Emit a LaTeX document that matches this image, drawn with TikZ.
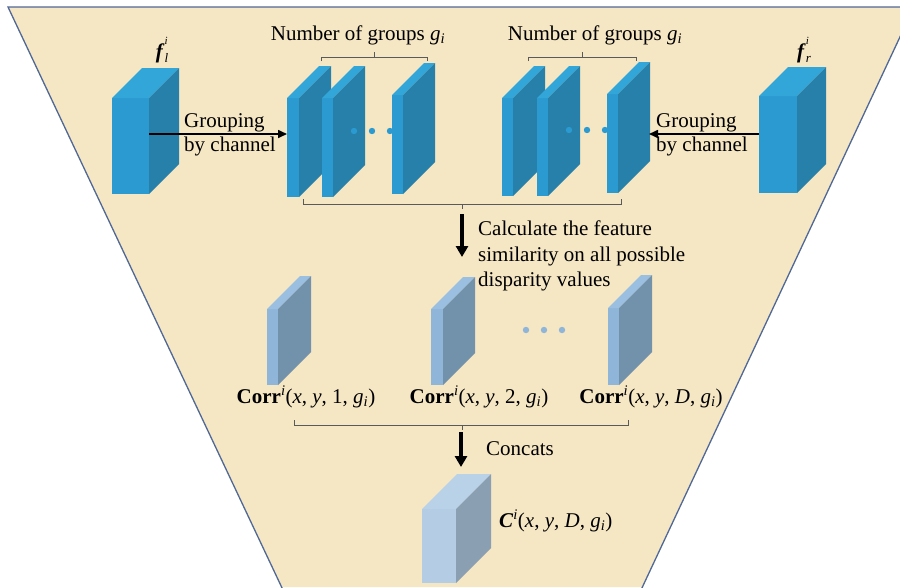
\documentclass[tikz,border=0pt]{standalone}
\usepackage{fontspec}
\setmainfont{Liberation Serif}
\usetikzlibrary{arrows.meta,calc}
\definecolor{bg}{RGB}{245,230,196}
\definecolor{edge}{RGB}{80,104,150}
\definecolor{bF}{RGB}{42,154,208}
\definecolor{bT}{RGB}{50,166,216}
\definecolor{bS}{RGB}{38,128,170}
\definecolor{lF}{RGB}{143,181,217}
\definecolor{lT}{RGB}{155,191,224}
\definecolor{lS}{RGB}{114,145,170}
\definecolor{cF}{RGB}{180,205,228}
\definecolor{cT}{RGB}{186,210,232}
\definecolor{cS}{RGB}{138,160,178}
\definecolor{brk}{RGB}{90,90,90}
\newcommand\cub[8]{%
  \fill[#6] (#1,#2) rectangle (#3,#4);
  \fill[#7] (#1,#2) -- (#1+#5,#2-#5) -- (#3+#5,#2-#5) -- (#3,#2) -- cycle;
  \fill[#8] (#3,#2) -- (#3+#5,#2-#5) -- (#3+#5,#4-#5) -- (#3,#4) -- cycle;
}
\newcommand\supsubtxt[2]{\rlap{\raisebox{0.62em}{\fontsize{11}{11}\selectfont\textit{#1}}}\raisebox{-0.2em}{\fontsize{13}{13}\selectfont\textit{#2}}}
\tikzset{
  lbl/.style={inner sep=0pt,font=\fontsize{21}{25.5}\selectfont},
  brack/.style={draw=brk,line width=0.8pt},
  thinarrow/.style={line width=1.6pt,-{Triangle[length=9pt,width=8pt]}},
  bigarrow/.style={line width=3.6pt,-{Triangle[length=11pt,width=12pt]}},
  dotb/.style={fill=bF},
  dotl/.style={fill=lF},
}
\begin{document}
\begin{tikzpicture}[x=1pt,y=-1pt]
\useasboundingbox (0,0) rectangle (900,587);
\clip (0,0) rectangle (900,587);
% background trapezoid
\fill[bg] (8,7) -- (914,7) -- (642,587) -- (282,587) -- cycle;
\draw[edge,line width=1.3pt] (283,590) -- (8,7) -- (914,7) -- (641,590);

% f_l cube
\cub{112}{98}{149}{194}{30}{bF}{bT}{bS}
\coordinate (fl-e) at (149,134);
\node[lbl,anchor=base] (fl-lab) at (162,58) {\textbf{\textit{f}}\supsubtxt{i}{l}};
% f_r cube
\cub{759}{96}{797}{193}{29}{bF}{bT}{bS}
\coordinate (fr-w) at (759,134);
\node[lbl,anchor=base] (fr-lab) at (804,58) {\textbf{\textit{f}}\supsubtxt{i}{r}};

% left slabs
\cub{287}{98}{299}{197}{32}{bF}{bT}{bS}
\cub{322}{98}{333}{197}{32}{bF}{bT}{bS}
\fill[dotb] (354,131) circle (3.2) (372,131) circle (3.2) (390,131) circle (3.2);
\cub{392}{95}{403}{194}{32}{bF}{bT}{bS}
\coordinate (sl-w) at (287,134);
% right slabs
\cub{502}{98}{513}{196}{32}{bF}{bT}{bS}
\cub{537}{98}{548}{196}{32}{bF}{bT}{bS}
\fill[dotb] (569,130) circle (3.2) (587,130) circle (3.2) (605,130) circle (3.2);
\cub{607}{94}{618}{193}{32}{bF}{bT}{bS}
\coordinate (sr-e) at (649,134);

% grouping arrows
\draw[thinarrow] (fl-e) -- (sl-w);
\draw[thinarrow] (fr-w) -- (sr-e);
\node[lbl,anchor=base west] (g1a) at (184,127) {Grouping};
\node[lbl,anchor=base west] (g1b) at (184,151) {by channel};
\node[lbl,anchor=base west] (g2a) at (656,127) {Grouping};
\node[lbl,anchor=base west] (g2b) at (656,151) {by channel};

% top brackets and labels
\draw[brack] (321,61) -- (321,57) -- (427,57) -- (427,61) (374,57) -- (374,52);
\draw[brack] (528,61) -- (528,57) -- (636,57) -- (636,61) (582,57) -- (582,52);
\node[lbl,anchor=base] (ng1) at (358,40) {Number of groups \textit{g}\textsubscript{\textit{i}}};
\node[lbl,anchor=base] (ng2) at (595,40) {Number of groups \textit{g}\textsubscript{\textit{i}}};

% middle bracket and arrow
\draw[brack] (303,199) -- (303,204) -- (621,204) -- (621,199) (462,204) -- (462,209);
\coordinate (a1s) at (462,214);
\coordinate (a1e) at (462,257);
\draw[bigarrow] (a1s) -- (a1e);
\node[lbl,anchor=base west] (calc1) at (478,235) {Calculate the feature};
\node[lbl,anchor=base west] (calc2) at (478,261) {similarity on all possible};
\node[lbl,anchor=base west] (calc3) at (478,286) {disparity values};

% correlation slabs
\cub{267}{309}{278}{385}{33}{lF}{lT}{lS}
\cub{431}{309}{443}{385}{32}{lF}{lT}{lS}
\cub{608}{308}{619}{385}{33}{lF}{lT}{lS}
\fill[dotl] (526,330) circle (3.2) (544,330) circle (3.2) (562,330) circle (3.2);
\node[lbl,anchor=base] (c1) at (306,403) {\textbf{Corr}\textsuperscript{\textit{i}}(\textit{x}, \textit{y}, 1, \textit{g}\textsubscript{\textit{i}})};
\node[lbl,anchor=base] (c2) at (479,403) {\textbf{Corr}\textsuperscript{\textit{i}}(\textit{x}, \textit{y}, 2, \textit{g}\textsubscript{\textit{i}})};
\node[lbl,anchor=base] (c3) at (651,403) {\textbf{Corr}\textsuperscript{\textit{i}}(\textit{x}, \textit{y}, \textit{D}, \textit{g}\textsubscript{\textit{i}})};

% bottom bracket and arrow
\draw[brack] (294,420) -- (294,425) -- (628,425) -- (628,420) (462,425) -- (462,430);
\coordinate (a2s) at (461,432);
\coordinate (a2e) at (461,467);
\draw[bigarrow] (a2s) -- (a2e);
\node[lbl,anchor=base west] (conc) at (486,455) {Concats};

% final cube
\cub{422}{509}{456}{583}{35}{cF}{cT}{cS}
\node[lbl,anchor=base west] (cl) at (499,527) {\textbf{\textit{C}}\textsuperscript{\textit{i}}(\textit{x}, \textit{y}, \textit{D}, \textit{g}\textsubscript{\textit{i}})};
\end{tikzpicture}
\end{document}
